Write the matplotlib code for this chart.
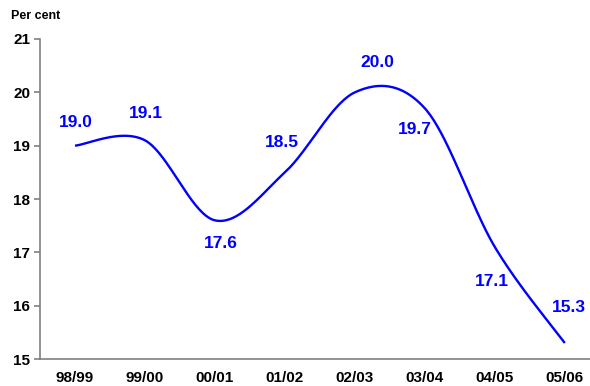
import numpy as np
import matplotlib.pyplot as plt

plt.rcParams['font.family'] = ['Liberation Sans', 'DejaVu Sans']

years = ['98/99', '99/00', '00/01', '01/02', '02/03', '03/04', '04/05', '05/06']
rate = [19.0, 19.1, 17.6, 18.5, 20.0, 19.7, 17.1, 15.3]
# where each value label sits relative to its point (pixels)
label_offsets = [(1, 23), (1, 27), (6, -23), (-3, 30), (22, 30), (-10, -21), (-3, -34), (4, 35)]

def smooth(x, y, n=40):
  # cubic bezier through each point, control points from neighbours (catmull-rom style)
  x = np.asarray(x, float)
  y = np.asarray(y, float)
  px = np.concatenate([[x[0]], x, [x[-1]]])
  py = np.concatenate([[y[0]], y, [y[-1]]])
  t = np.linspace(0, 1, n)
  xs, ys = [], []
  for i in range(len(x) - 1):
    p0 = np.array([px[i], py[i]])
    p1 = np.array([px[i+1], py[i+1]])
    p2 = np.array([px[i+2], py[i+2]])
    p3 = np.array([px[i+3], py[i+3]])
    c1 = p1 + (p2 - p0)/6
    c2 = p2 - (p3 - p1)/6
    b = ((1-t)**3)[:, None]*p1 + (3*(1-t)**2*t)[:, None]*c1 + (3*(1-t)*t**2)[:, None]*c2 + (t**3)[:, None]*p2
    xs.append(b[:, 0])
    ys.append(b[:, 1])
  return np.concatenate(xs), np.concatenate(ys)

fig = plt.figure(figsize=(5.9, 3.86), dpi=100)
ax = fig.add_axes([40/590, 27/386, 550/590, 320/386])

idx = np.arange(len(years))
sx, sy = smooth(idx, rate)
ax.plot(sx, sy, color='#0000ff', lw=1.7, solid_capstyle='butt')

for i, v in enumerate(rate):
  dx, dy = label_offsets[i]
  ax.annotate('%.1f' % v, (i, v), xytext=(dx, dy), textcoords='offset pixels',
              ha='center', va='center', color='#0000ff', fontsize=12.5, fontweight='bold')

ax.set_xlim(-0.5, 7.36)
ax.set_ylim(15, 21)
ax.set_yticks(range(15, 22))
ax.set_xticks(idx)
ax.set_xticklabels(years)
for s in ['top', 'right']:
  ax.spines[s].set_visible(False)
for s in ['left', 'bottom']:
  ax.spines[s].set_color('#808080')
  ax.spines[s].set_linewidth(1.2)
ax.tick_params(axis='y', length=4, color='#808080', width=1.2, labelsize=11, pad=3)
ax.tick_params(axis='x', length=0, labelsize=11, pad=9)
for lab in ax.get_xticklabels() + ax.get_yticklabels():
  lab.set_fontweight('bold')

fig.text(11/590, 1 - 16/386, 'Per cent', fontsize=9, fontweight='bold', va='center', ha='left')

fig.savefig('out.png', dpi=100)
